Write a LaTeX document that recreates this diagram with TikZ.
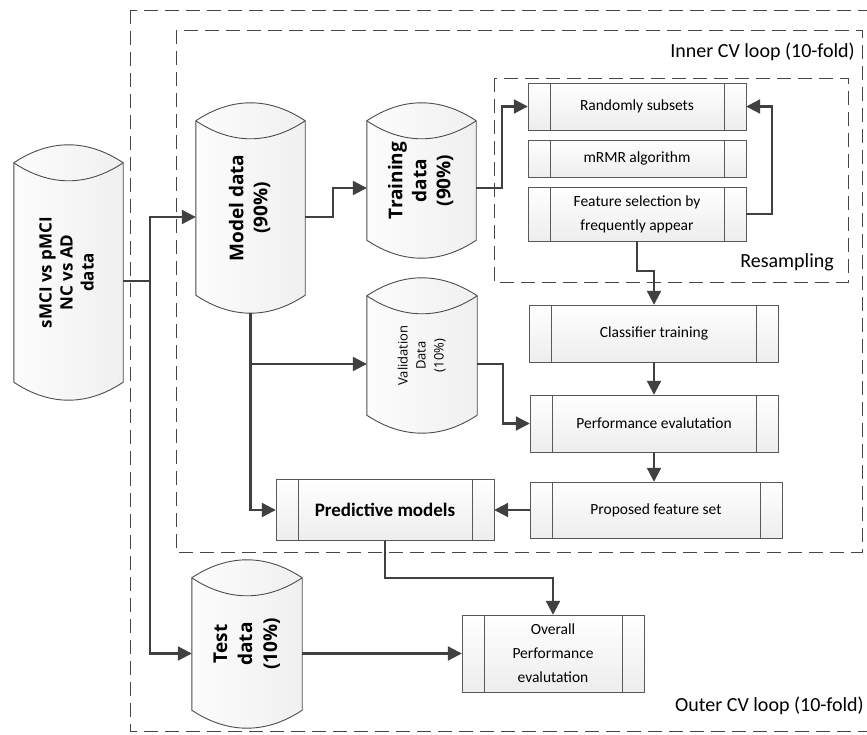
\documentclass[tikz,border=0pt]{standalone}
\usepackage{fontspec}
\setmainfont{Carlito}
\newfontfamily\cylfont{Open Sans}
\usepackage{tikz}
\usetikzlibrary{arrows.meta, positioning, backgrounds}

% text turned to read upwards
\newcommand{\uptext}[1]{\rotatebox{90}{\begin{tabular}{@{}c@{}}#1\end{tabular}}}
% cylinder outline round a store node, on the background layer
\newcommand{\drawstore}[1]{%
  \begin{scope}[on background layer]
    \draw[storeline, left color=gray!2, right color=gray!12]
      (#1.north west) -- (#1.south west)
      .. controls ([xshift=36,yshift=-24]#1.south west) and ([xshift=-36,yshift=-24]#1.south east) .. (#1.south east)
      -- (#1.north east)
      .. controls ([xshift=-36,yshift=24]#1.north east) and ([xshift=36,yshift=24]#1.north west) .. (#1.north west) -- cycle;
    \draw[storeline] (#1.north west)
      .. controls ([xshift=36,yshift=-24]#1.north west) and ([xshift=-36,yshift=-24]#1.north east) .. (#1.north east);
  \end{scope}}

\begin{document}
\begin{tikzpicture}[
    x=1pt, y=-1pt,
    store/.style={rectangle, inner sep=0pt, minimum width=109,
        font=\cylfont\bfseries\fontsize{19}{24}\selectfont},
    storeline/.style={draw=gray!60!black, line width=0.9pt},
    procbox/.style={draw=gray!70!black, top color=white, bottom color=gray!14,
        align=center, inner sep=0pt, font=\fontsize{15.5}{24}\selectfont,
        path picture={\draw[gray!70!black]
            ([xshift=22pt]path picture bounding box.north west) --
            ([xshift=22pt]path picture bounding box.south west)
            ([xshift=-22pt]path picture bounding box.north east) --
            ([xshift=-22pt]path picture bounding box.south east);}},
    loopbox/.style={draw=gray!55!black, dash pattern=on 14pt off 7pt, line width=0.8pt},
    looplabel/.style={anchor=east, inner sep=0pt, font=\fontsize{20}{24}\selectfont},
    arr/.style={draw=black!75, line width=2.2pt, -{Triangle[length=14pt, width=14pt]}},
    line/.style={draw=black!75, line width=2.2pt},
]
\useasboundingbox (0,0) rectangle (867,735);

% loop frames
\draw[loopbox] (130,10) rectangle (872,731);
\draw[loopbox] (176,30) rectangle (862,552);
\draw[loopbox] (494,78) rectangle (848,282);

\node[looplabel] (innerlbl) at (855,52) {Inner CV loop (10-fold)};
\node[looplabel] (resamplbl) at (834,262) {Resampling};
\node[looplabel] (outerlbl) at (864,706) {Outer CV loop (10-fold)};

% data stores
\node[store, minimum height=219, font=\cylfont\bfseries\fontsize{17}{21}\selectfont]
    (data) at (68.5,272.5) {\uptext{sMCI vs pMCI\\NC vs AD\\data}};
\node[store, minimum height=174] (model) at (250.5,208) {\uptext{Model data\\(90\%)}};
\node[store, minimum height=119] (train) at (421.5,180.5) {\uptext{Training\\data\\(90\%)}};
\node[store, minimum width=110, minimum height=119, font=\cylfont\fontsize{13}{18}\selectfont]
    (valid) at (422,355.5) {\uptext{Validation\\Data\\(10\%)}};
\node[store, minimum width=110, minimum height=132, font=\cylfont\bfseries\fontsize{19}{25}\selectfont]
    (test) at (247,644) {\uptext{Test\\data\\(10\%)}};
\foreach \s in {data, model, train, valid, test} {\drawstore{\s}}

% processes
\node[procbox, minimum width=218, minimum height=47] (rand) at (637,106.5) {Randomly subsets};
\node[procbox, minimum width=218, minimum height=37] (mrmr) at (637,158.5) {mRMR algorithm};
\node[procbox, minimum width=218, minimum height=54] (fsel) at (637,214) {Feature selection by\\frequently appear};
\node[procbox, minimum width=249, minimum height=57] (clf) at (654,333.5) {Classifier training};
\node[procbox, minimum width=248, minimum height=57] (perf) at (654,423.5) {Performance evalutation};
\node[procbox, minimum width=252, minimum height=56] (prop) at (656,510) {Proposed feature set};
\node[procbox, minimum width=218, minimum height=61, font=\bfseries\fontsize{19}{22}\selectfont]
    (pred) at (385,510) {Predictive models};
\node[procbox, minimum width=182, minimum height=77] (overall) at (553,653.5) {Overall\\Performance\\evalutation};

% connectors
\coordinate (split) at (150,281);
\draw[line] (data.east |- split) -- (split);
\draw[arr] (split) |- ([yshift=-9]model.west);
\draw[arr] (split) |- ([yshift=-9.5]test.west);
\draw[arr] ([yshift=-9]model.east) -- ++(28,0) |- ([yshift=-7.5]train.west);
\draw[arr] ([yshift=-7.5]train.east) -- ++(26,0) |- (rand.west);
\draw[arr] (fsel.east) -- ++(26,0) |- (rand.east);
\draw[arr] (fsel.south) -- ++(0,30) -| (clf.north);
\draw[arr] ([yshift=-18]model.south) |- ([yshift=-8.5]valid.west);
\draw[arr] ([yshift=-18]model.south) |- (pred.west);
\draw[arr] ([yshift=-8.5]valid.east) -- ++(26,0) |- (perf.west);
\draw[arr] (clf.south) -- (perf.north);
\draw[arr] (perf.south) -- (perf.south |- prop.north);
\draw[arr] (prop.west) -- (pred.east);
\draw[arr] (pred.south) -- ++(0,37) -| (overall.north);
\draw[arr] ([yshift=-9.5]test.east) -- (overall.west);

\end{tikzpicture}
\end{document}
